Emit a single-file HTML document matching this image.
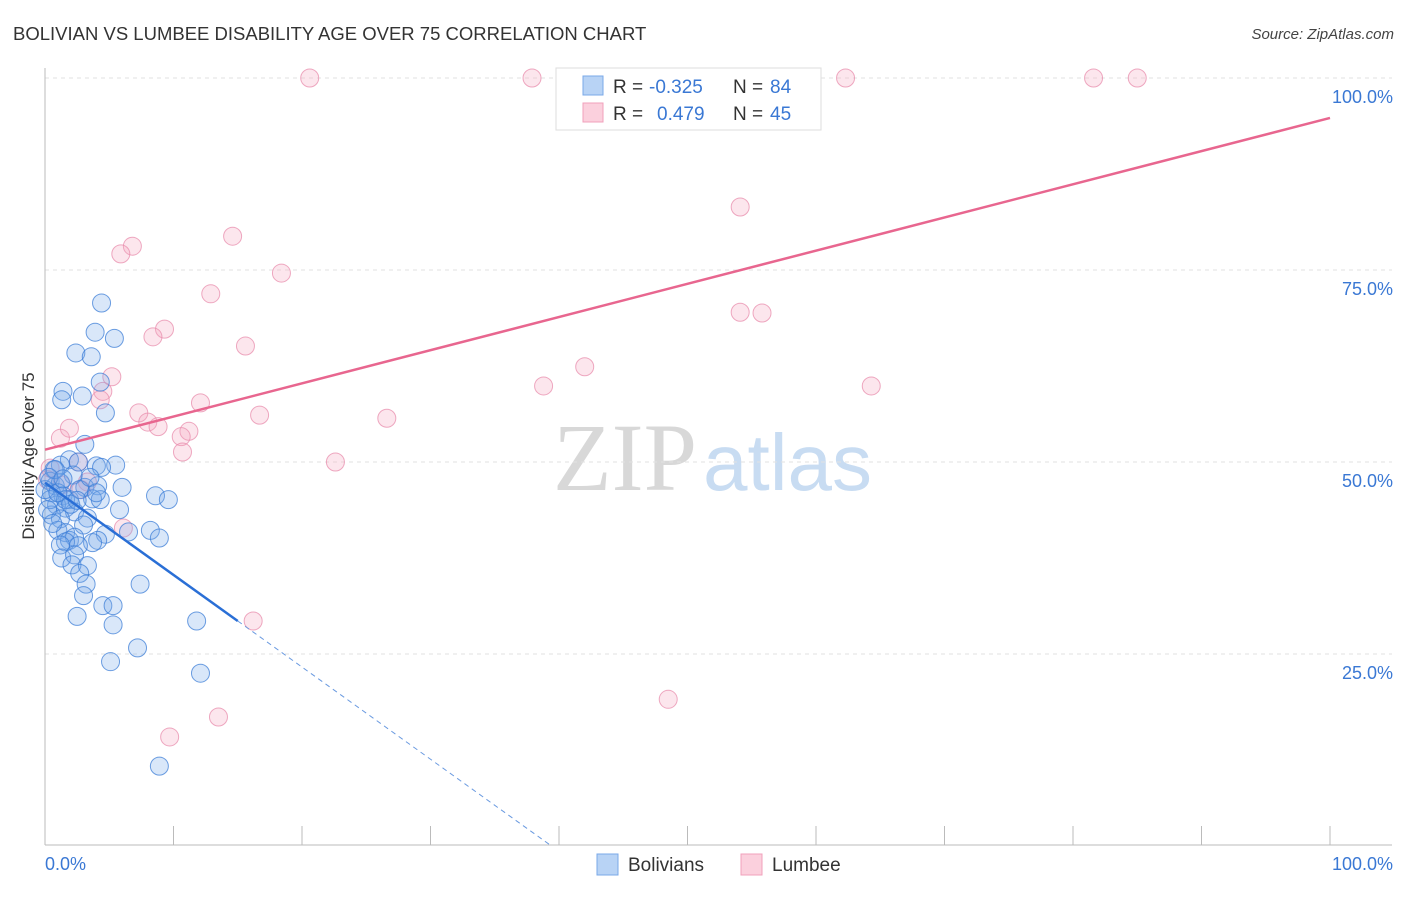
<!DOCTYPE html>
<html><head><meta charset="utf-8"><style>
body{margin:0;background:#fff;font-family:"Liberation Sans",sans-serif}
</style></head><body>
<svg id="chart" width="1406" height="892" xmlns="http://www.w3.org/2000/svg" font-family="Liberation Sans, sans-serif">
<text x="13" y="40" font-size="18.5" fill="#333">BOLIVIAN VS LUMBEE DISABILITY AGE OVER 75 CORRELATION CHART</text>
<text x="1394" y="39" font-size="15" fill="#444" font-style="italic" text-anchor="end">Source: ZipAtlas.com</text>
<text x="553" y="490" font-size="96" font-family="Liberation Serif, serif" fill="#d8d8d8">ZIP<tspan font-family="Liberation Sans, sans-serif" font-size="80" fill="#c8dcf2" dx="6">atlas</tspan></text>
<g id="grid"></g>
<g id="axes"></g>
<g id="pts"></g>
<g id="lines"></g>
<text transform="translate(34,456) rotate(-90)" font-size="17" fill="#333" text-anchor="middle">Disability Age Over 75</text>
<text x="45" y="870" font-size="18" fill="#3a78d4">0.0%</text>
<text x="1393" y="870" font-size="18" fill="#3a78d4" text-anchor="end">100.0%</text>
<g>
<rect x="556" y="68" width="265" height="62" fill="#fff" stroke="#ddd"/>
<rect x="583" y="76" width="20" height="19" fill="#b8d3f5" stroke="#7aa8e8"/>
<rect x="583" y="103" width="20" height="19" fill="#fbd0dd" stroke="#f0a0bb"/>
<text x="613" y="93" font-size="19" fill="#333">R =</text>
<text x="649" y="93" font-size="19" fill="#3a78d4">-0.325</text>
<text x="733" y="93" font-size="19" fill="#333">N =</text>
<text x="770" y="93" font-size="19" fill="#3a78d4">84</text>
<text x="613" y="120" font-size="19" fill="#333">R =</text>
<text x="657" y="120" font-size="19" fill="#3a78d4">0.479</text>
<text x="733" y="120" font-size="19" fill="#333">N =</text>
<text x="770" y="120" font-size="19" fill="#3a78d4">45</text>
</g>
<g>
<rect x="597" y="854" width="21" height="21" fill="#b8d3f5" stroke="#7aa8e8"/>
<text x="628" y="871" font-size="19" fill="#333">Bolivians</text>
<rect x="741" y="854" width="21" height="21" fill="#fbd0dd" stroke="#f0a0bb"/>
<text x="772" y="871" font-size="19" fill="#333">Lumbee</text>
</g>
</svg>
<script>
const yTicks=[25,50,75,100];
const yTickLabels=["25.0%","50.0%","75.0%","100.0%"];
const xTicks=[0,10,20,30,40,50,60,70,80,90,100];
const blueX=[4.4,3.9,5.4,2.4,3.6,4.3,1.4,1.3,2.9,4.7,3.1,1.9,1.2,2.6,4.0,5.5,4.4,0.7,2.2,0.4,0.8,1.2,3.1,6.0,4.1,8.6,9.6,0.5,1.4,1.9,3.7,0.9,1.6,2.3,0.5,1.2,3.3,1.0,1.6,3.0,4.7,6.5,8.2,8.9,1.9,2.3,1.6,4.1,3.7,1.2,2.6,1.3,2.3,2.1,3.3,2.7,3.2,7.4,3.0,4.5,5.3,2.5,5.3,11.8,7.2,5.1,12.1,8.9,0.4,0.2,0.8,1.6,2.7,0.0,4.3,5.8,0.3,1.0,2.0,0.6,3.5,1.4,4.0,2.5];
const blueY=[70.7,66.9,66.1,64.2,63.7,60.4,59.2,58.1,58.6,56.4,52.3,50.3,49.6,50.0,49.5,49.6,49.3,49.0,48.3,47.5,46.9,47.3,46.7,46.7,46.9,45.6,45.1,46.0,45.6,45.1,45.2,44.4,44.0,43.5,43.1,42.6,42.7,41.1,40.8,41.8,40.6,40.9,41.1,40.1,39.8,40.2,39.6,39.8,39.5,39.2,39.1,37.5,37.9,36.6,36.5,35.5,34.1,34.1,32.6,31.3,31.3,29.9,28.8,29.3,25.8,24.0,22.5,10.4,45.1,43.8,49.0,45.1,46.4,46.4,45.1,43.8,48.0,46.0,44.5,42.0,48.0,47.8,46.0,45.0];
const pinkX=[20.6,37.9,62.3,81.6,85.0,54.1,14.6,6.8,5.9,18.4,12.9,54.1,55.8,9.3,8.4,15.6,5.2,4.5,4.3,42.0,38.8,64.3,12.1,7.3,16.7,26.6,8.0,8.8,11.2,10.6,1.2,1.9,10.7,22.6,0.4,2.6,0.2,1.3,3.3,2.8,6.1,16.2,48.5,13.5,9.7];
const pinkY=[100,100,100,100,100,83.2,79.4,78.1,77.1,74.6,71.9,69.5,69.4,67.3,66.3,65.1,61.1,59.2,58.1,62.4,59.9,59.9,57.7,56.4,56.1,55.7,55.2,54.6,54.0,53.3,53.1,54.4,51.3,50.0,49.2,50.0,47.7,47.0,47.4,46.4,41.4,29.3,19.1,16.8,14.2];
const blueFit=[47.3,-1.2];const blueSolidEnd=15;
const pinkFit=[51.6,0.432];
const NS="http://www.w3.org/2000/svg";
const X=v=>45+v*12.85, Y=v=>846-v*7.68;
function mk(tag,attrs,parent){const e=document.createElementNS(NS,tag);for(const k in attrs)e.setAttribute(k,attrs[k]);document.getElementById(parent).appendChild(e);return e;}
yTicks.forEach((t,i)=>{
 const g=mk('line',{x1:45,x2:1392,y1:Y(t),y2:Y(t),stroke:'#e2e2e2','stroke-dasharray':'4,4'},'grid');
 
 
 const l=mk('text',{x:1393,y:Y(t)+25,'font-size':18,fill:'#3a78d4','text-anchor':'end'},'grid');
 l.textContent=yTickLabels[i];
 
 
});
const ax=mk('line',{x1:45,x2:1392,y1:845,y2:845,stroke:'#bbb'},'axes');


const ay=mk('line',{x1:45,x2:45,y1:68,y2:845,stroke:'#bbb'},'axes');


xTicks.forEach(t=>{const k=mk('line',{x1:X(t),x2:X(t),y1:826,y2:845,stroke:'#bbb'},'axes');
 
 });
pinkX.forEach((v,i)=>{const c=mk('circle',{cx:X(v),cy:Y(pinkY[i]),r:9,fill:'rgba(244,165,192,0.28)',stroke:'rgba(232,140,172,0.75)','stroke-width':1},'pts');
 
 });
blueX.forEach((v,i)=>{const c=mk('circle',{cx:X(v),cy:Y(blueY[i]),r:9,fill:'rgba(120,168,235,0.28)',stroke:'rgba(60,125,215,0.75)','stroke-width':1},'pts');
 
 });
const pl=mk('line',{x1:X(0),y1:Y(pinkFit[0]),x2:X(100),y2:Y(pinkFit[0]+pinkFit[1]*100),stroke:'#e8668f','stroke-width':2.5},'lines');


const bl=mk('line',{x1:X(0),y1:Y(blueFit[0]),x2:X(blueSolidEnd),y2:Y(blueFit[0]+blueFit[1]*blueSolidEnd),stroke:'#2a6fd6','stroke-width':2.5},'lines');


const xEnd=-blueFit[0]/blueFit[1];
const bd=mk('line',{x1:X(blueSolidEnd),y1:Y(blueFit[0]+blueFit[1]*blueSolidEnd),x2:X(xEnd),y2:Y(0),stroke:'#6a9ae0','stroke-width':1,'stroke-dasharray':'5,4'},'lines');


</script>
</body></html>
